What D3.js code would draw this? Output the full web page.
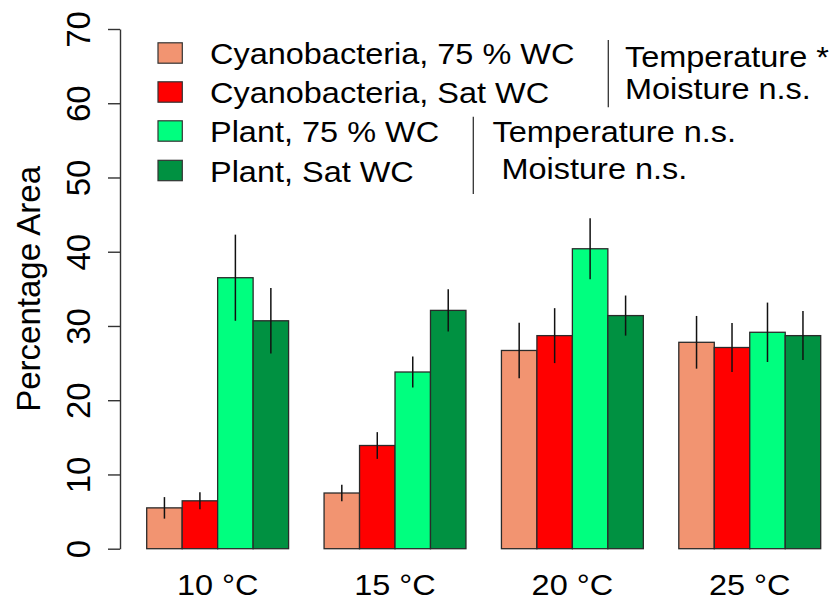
<html>
<head>
<meta charset="utf-8">
<style>
  body { margin: 0; background: #fff; }
  text { font-family: "Liberation Sans", Arial, Helvetica, sans-serif; fill: #000; }
</style>
</head>
<body>
<div id="chart"></div>
<script src="https://d3js.org/d3.v7.min.js"></script>
<script>
    var width = 831,
        height = 601;

    // data
    var groups = ["10 °C", "15 °C", "20 °C", "25 °C"];
    var seriesNames = ["Cyanobacteria, 75 % WC", "Cyanobacteria, Sat WC", "Plant, 75 % WC", "Plant, Sat WC"];
    var seriesColors = ["#f29471", "#ff0000", "#00ff7f", "#009141"];

    var cyano75 = [5.5, 7.5, 26.7, 27.8];
    var cyanoSat = [6.45, 13.9, 28.7, 27.1];
    var plant75 = [36.5, 23.8, 40.4, 29.15];
    var plantSat = [30.7, 32.1, 31.4, 28.7];

    var cyano75Err = [1.45, 1.1, 3.75, 3.55];
    var cyanoSatErr = [1.15, 1.8, 3.7, 3.3];
    var plant75Err = [5.8, 2.1, 4.1, 4.0];
    var plantSatErr = [4.4, 2.85, 2.7, 3.3];

    var yTicks = [0, 10, 20, 30, 40, 50, 60, 70];

    var cyanoNote = ["Temperature *", "Moisture n.s."];
    var plantNote = ["Temperature n.s.", " Moisture n.s."];

    var means = [cyano75, cyanoSat, plant75, plantSat];
    var errs = [cyano75Err, cyanoSatErr, plant75Err, plantSatErr];

    var bars = [];
    groups.forEach(function(g, gi) {
        seriesNames.forEach(function(s, si) {
            bars.push({group: g, series: si, value: means[si][gi], err: errs[si][gi]});
        });
    });

    var svg = d3.select("#chart")
        .append("svg")
        .attr("width", width)
        .attr("height", height);

    var x = d3.scaleBand()
        .domain(groups)
        .range([146.7, 820.7])
        .paddingInner(0.2)
        .paddingOuter(0);

    var xs = d3.scaleBand()
        .domain(d3.range(seriesNames.length))
        .range([0, x.bandwidth()])
        .padding(0);

    var y = d3.scaleLinear()
        .domain([0, 70])
        .range([548.7, 29]);

    var sx = 1.12;  // horizontal text stretch seen in the original

    function hText(parent, tx, ty, str, anchor) {
        return parent.append("text")
            .attr("transform", "translate(" + tx + "," + ty + ") scale(" + sx + ",1)")
            .attr("text-anchor", anchor || "start")
            .style("font-size", "29px")
            .text(str);
    }

    // bars
    svg.append("g")
        .selectAll("rect")
        .data(bars)
        .enter().append("rect")
        .attr("x", function(d) { return x(d.group) + xs(d.series); })
        .attr("y", function(d) { return y(d.value); })
        .attr("width", xs.bandwidth())
        .attr("height", function(d) { return y(0) - y(d.value); })
        .attr("fill", function(d) { return seriesColors[d.series]; })
        .attr("stroke", "#2a2a2a")
        .attr("stroke-width", 1.3);

    // error bars
    svg.append("g")
        .selectAll("line")
        .data(bars)
        .enter().append("line")
        .attr("x1", function(d) { return x(d.group) + xs(d.series) + xs.bandwidth() / 2; })
        .attr("x2", function(d) { return x(d.group) + xs(d.series) + xs.bandwidth() / 2; })
        .attr("y1", function(d) { return y(d.value + d.err); })
        .attr("y2", function(d) { return y(d.value - d.err); })
        .attr("stroke", "#111")
        .attr("stroke-width", 1.5);

    // y axis
    var yAxis = svg.append("g")
        .attr("transform", "translate(120,0)")
        .call(d3.axisLeft(y).tickValues(yTicks).tickSize(12).tickSizeOuter(0));

    yAxis.selectAll("path, line")
        .attr("stroke", "#333")
        .attr("stroke-width", 1.4);

    yAxis.selectAll("text")
        .attr("transform", "rotate(-90)")
        .attr("x", 0)
        .attr("y", -30)
        .attr("dy", 0)
        .attr("text-anchor", "middle")
        .style("font-family", "'Liberation Sans', Arial, sans-serif")
        .style("font-size", "33px")
        .attr("fill", "#000");

    svg.append("text")
        .attr("transform", "translate(40," + ((y(0) + y(70)) / 2) + ") rotate(-90)")
        .attr("text-anchor", "middle")
        .style("font-size", "33px")
        .text("Percentage Area");

    // group labels
    groups.forEach(function(g) {
        hText(svg, x(g) + x.bandwidth() / 2, 595, g, "middle");
    });

    // legend
    var legendY = [53, 92, 131, 170.5];
    var legend = svg.append("g");
    seriesNames.forEach(function(s, i) {
        legend.append("rect")
            .attr("x", 158)
            .attr("y", legendY[i] - 10.2)
            .attr("width", 24.3)
            .attr("height", 20.4)
            .attr("fill", seriesColors[i])
            .attr("stroke", "#333")
            .attr("stroke-width", 1.2);
        hText(legend, 210, legendY[i] + 11.2, s);
    });

    // test notes
    svg.append("line")
        .attr("x1", 608.3).attr("x2", 608.3)
        .attr("y1", 40).attr("y2", 107.3)
        .attr("stroke", "#333").attr("stroke-width", 1.3);
    hText(svg, 625, 66.7, cyanoNote[0]);
    hText(svg, 625, 99, cyanoNote[1]);

    svg.append("line")
        .attr("x1", 473.3).attr("x2", 473.3)
        .attr("y1", 116.7).attr("y2", 194)
        .attr("stroke", "#333").attr("stroke-width", 1.3);
    hText(svg, 492.5, 141.5, plantNote[0]);
    hText(svg, 492.5, 179, plantNote[1]).attr("xml:space", "preserve").style("white-space", "pre");
</script>
</body>
</html>
